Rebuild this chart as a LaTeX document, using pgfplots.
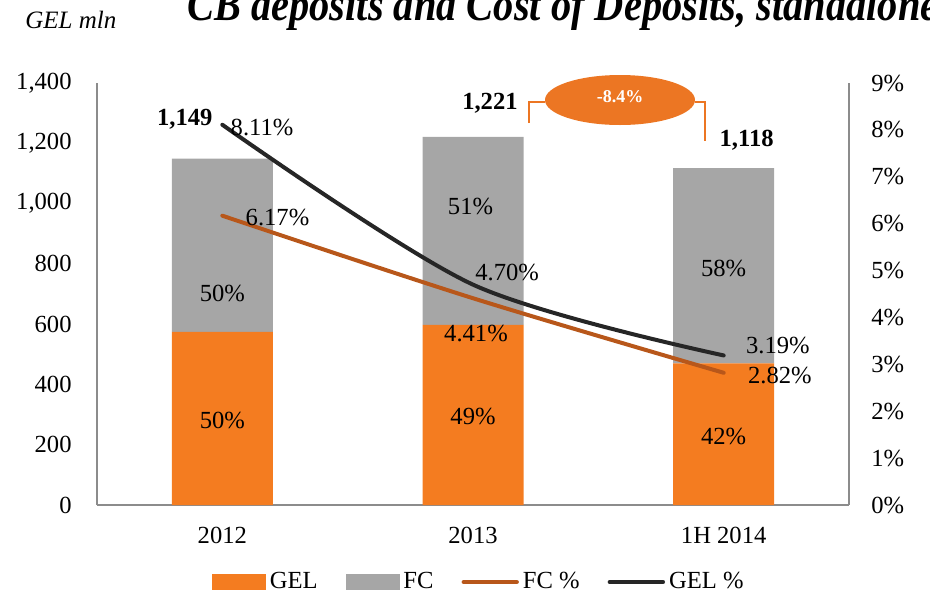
\documentclass[border=0pt]{standalone}
\usepackage{fontspec}
\setmainfont{Liberation Serif}
\usepackage{pgfplots}
\pgfplotsset{compat=1.18}

\definecolor{gelbar}{RGB}{244,124,32}
\definecolor{fcbar}{RGB}{166,166,166}
\definecolor{fcline}{RGB}{184,87,26}
\definecolor{gelline}{RGB}{38,38,38}
\definecolor{axgray}{RGB}{140,140,140}
\definecolor{oval}{RGB}{236,118,35}

\newcommand\lbl{\fontsize{12.3}{14}\selectfont}

\begin{document}
\begin{tikzpicture}
\useasboundingbox (0,0) rectangle (465pt,295.5pt);
\clip (0,0) rectangle (465pt,295.5pt);

% --- left axis: stacked bars ---
\begin{axis}[
    at={(48.5pt,43pt)}, anchor=south west,
    scale only axis, width=376pt, height=211pt,
    ybar stacked, bar width=50.5pt,
    xmin=-0.5, xmax=2.5, ymin=0, ymax=1400,
    xtick={0,1,2}, xticklabels={2012,2013,1H 2014},
    ytick={0,200,...,1400},
    axis x line*=bottom, axis y line*=left,
    axis line style={axgray, line width=0.6pt, -},
    major tick length=0pt,
    /pgf/number format/assume math mode=true,
    /pgf/number format/1000 sep={,},
    tick label style={font=\lbl, inner sep=0pt},
    y tick label style={xshift=-12.5pt},
    x tick label style={yshift=-11pt},
    clip=false,
]
\addplot[fill=gelbar, draw=none] coordinates {(0,574.5) (1,598) (2,470)};
\addplot[fill=fcbar, draw=none] coordinates {(0,574.5) (1,623) (2,648)};

% totals
\node[font=\lbl\bfseries, anchor=east, inner sep=0pt] at ([xshift=-4.75pt, yshift=19.5pt]axis cs:0,1149) {1,149};
\node[font=\lbl\bfseries, anchor=east, inner sep=0pt] at ([xshift=22.5pt, yshift=17pt]axis cs:1,1221) {1,221};
\node[font=\lbl\bfseries, inner sep=0pt] at ([xshift=11.5pt, yshift=14pt]axis cs:2,1118) {1,118};
\end{axis}

% --- right axis: cost of deposits ---
\begin{axis}[
    at={(48.5pt,43pt)}, anchor=south west,
    scale only axis, width=376pt, height=211pt,
    xmin=-0.5, xmax=2.5, ymin=0, ymax=9,
    ytick={0,1,...,9},
    yticklabel={\pgfmathprintnumber{\tick}\%},
    axis y line*=right, axis x line=none,
    axis line style={axgray, line width=0.6pt, -},
    major tick length=0pt,
    /pgf/number format/assume math mode=true,
    tick label style={font=\lbl, inner sep=0pt},
    y tick label style={xshift=11pt},
    clip=false,
    legend columns=4,
    legend style={draw=none, fill=none, font=\lbl,
        at={(axis description cs:0.509,-0.1825)}, anchor=center,
        inner xsep=0pt, inner ysep=0pt,
        /tikz/every even column/.append style={column sep=12pt}},
]
\addlegendimage{legend image code/.code={\fill[gelbar] (0pt,-3.6pt) rectangle (26.5pt,3.6pt);}}
\addlegendentry{GEL}
\addlegendimage{legend image code/.code={\fill[fcbar] (0pt,-3.6pt) rectangle (26.5pt,3.6pt);}}
\addlegendentry{FC}

% share labels inside the bars (positions on the 0-1400 scale, times 9/1400)
\node[font=\lbl] at (axis cs:0,1.794) {50\%};
\node[font=\lbl] at (axis cs:1,1.896) {49\%};
\node[font=\lbl] at (axis cs:2,1.453) {42\%};
\node[font=\lbl] at (axis cs:0,4.519) {50\%};
\node[font=\lbl] at (axis cs:0.99,6.377) {51\%};
\node[font=\lbl] at (axis cs:2,5.034) {58\%};

\addplot[fcline, line width=2pt, smooth, line cap=round,
    legend image code/.code={\draw[fcline, line width=2.2pt, line cap=round] (0.5pt,0pt) -- (27pt,0pt);}]
    coordinates {(0,6.17) (1,4.41) (2,2.82)};
\addlegendentry{FC \%}
\addplot[gelline, line width=2pt, smooth, line cap=round,
    legend image code/.code={\draw[gelline, line width=2.2pt, line cap=round] (0.5pt,0pt) -- (27pt,0pt);}]
    coordinates {(0,8.11) (1,4.70) (2,3.19)};
\addlegendentry{GEL \%}

\node[font=\lbl, anchor=west, inner sep=0pt] at ([xshift=4pt, yshift=-1.5pt]axis cs:0,8.11) {8.11\%};
\node[font=\lbl, anchor=west, inner sep=0pt] at ([xshift=11.5pt, yshift=-1pt]axis cs:0,6.17) {6.17\%};
\node[font=\lbl, anchor=west, inner sep=0pt] at ([xshift=1pt, yshift=6.3pt]axis cs:1,4.70) {4.70\%};
\node[font=\lbl, inner sep=0pt] at ([xshift=1.5pt, yshift=-17.5pt]axis cs:1,4.41) {4.41\%};
\node[font=\lbl, anchor=west, inner sep=0pt] at ([xshift=11pt, yshift=5pt]axis cs:2,3.19) {3.19\%};
\node[font=\lbl, anchor=west, inner sep=0pt] at ([xshift=12pt, yshift=-1.5pt]axis cs:2,2.82) {2.82\%};
\end{axis}

% --- titles and change marker (pixel grid) ---
\begin{scope}[x=0.5pt, y=-0.5pt, shift={(0pt,295.5pt)}]
\node[anchor=base west, inner sep=0pt, font=\fontsize{12.5}{14}\selectfont\itshape] at (25,28) {GEL mln};
\node[anchor=base west, inner sep=0pt, xscale=0.86, font=\fontsize{23.5}{26}\selectfont\bfseries\itshape] at (187,20) {CB deposits and Cost of Deposits, standalone};
\draw[oval, line width=0.8pt] (529,123) -- (529,102) -- (545,102);
\draw[oval, line width=0.8pt] (695,102) -- (705,102) -- (705,141);
\fill[oval] (620,100) ellipse [x radius=75, y radius=25];
\node[text=white, font=\fontsize{9}{10}\selectfont\bfseries, inner sep=0pt] at (620,97) {-8.4\%};
\end{scope}
\end{tikzpicture}
\end{document}
